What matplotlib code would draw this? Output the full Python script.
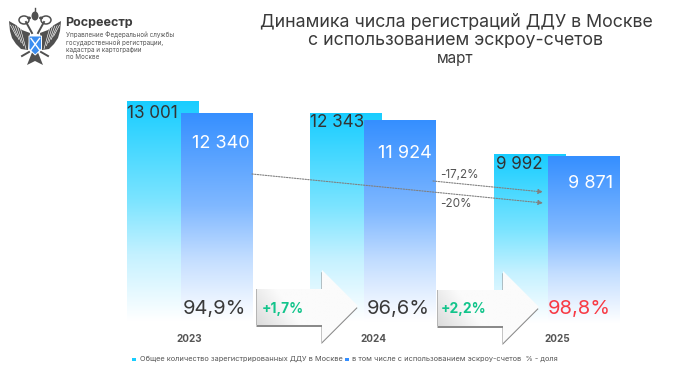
import numpy as np
import matplotlib
matplotlib.use('Agg')
import matplotlib.pyplot as plt
from matplotlib.colors import LinearSegmentedColormap
from matplotlib.patches import Polygon, Rectangle, Ellipse

plt.rcParams['font.family'] = ['Inter', 'DejaVu Sans']

years = ['2023', '2024', '2025']
total = [13001, 12343, 9992]
escrow = [12340, 11924, 9871]
total_labels = ['13 001', '12 343', '9 992']
escrow_labels = ['12 340', '11 924', '9 871']
shares = ['94,9%', '96,6%', '98,8%']
share_colors = ['#3a3a3a', '#3a3a3a', '#f83a44']
deltas = ['+1,7%', '+2,2%']
drops = ['-17,2%', '-20%']

W, H = 698, 382
fig = plt.figure(figsize=(W / 100, H / 100), dpi=100)

# bars axes, zero line sits at pixel row 330
ax = fig.add_axes([0, 0, 1, 1])
u = 56.8
ax.axis('off')

# overlay in pixel coordinates for everything else
pa = fig.add_axes([0, 0, 1, 1], zorder=5)
pa.axis('off')
pa.patch.set_alpha(0)

cyan = LinearSegmentedColormap.from_list('c', [(0, '#ffffff'), (0.04, '#ffffff'), (0.33, '#c4f1ff'),
                                               (0.57, '#7be4ff'), (1, '#18cdff')])
blue = LinearSegmentedColormap.from_list('b', [(0, '#ffffff'), (0.04, '#ffffff'), (0.33, '#c2ddff'),
                                               (0.57, '#80b8ff'), (1, '#358fff')])
grad = np.linspace(1, 0, 256).reshape(-1, 1)

starts = [127, 310, 494]
bw = 72
for i in range(3):
    for x0, v, cm, z in [(starts[i], total[i], cyan, 2), (starts[i] + 54, escrow[i], blue, 3)]:
        b = ax.bar(x0, v, width=bw, align='edge', color='none', zorder=z)[0]
        im = ax.imshow(grad, extent=[x0, x0 + bw, 0, v], cmap=cm, vmin=0, vmax=1,
                       aspect='auto', zorder=z)
        im.set_clip_path(b)
ax.set_xlim(0, W)
ax.set_ylim((330 - H) * u, 330 * u)

for i in range(3):
    pa.text([127, 310, 495.5][i], [113.5, 122.5, 164.5][i], total_labels[i],
            fontsize=12.3, color='#333333', ha='left', va='center')
    pa.text([220.5, 405, 591][i], [144, 154, 183][i], escrow_labels[i],
            fontsize=13, color='white', ha='center', va='center')
    pa.text([214.5, 398, 579.5][i], 309, shares[i], fontsize=14.5,
            color=share_colors[i], ha='center', va='center')
    pa.text([189, 373.5, 557][i], 339, years[i], fontsize=7.2, fontweight='bold',
            color='#555555', ha='center', va='center')

# block arrows
arrow_grad = LinearSegmentedColormap.from_list('a', ['#d4d4d4', '#fbfbfb'])
xg, yg = np.meshgrid(np.linspace(0, 1, 64), np.linspace(0.9, 0, 64))
shade = np.clip(1.8 * xg + yg, 0, 1)
for i, x in enumerate([257, 438]):
    d = i
    pts = [(x, 289 + d), (x + 65, 289 + d), (x + 65, 270 + d), (x + 101, 306 + d), (x + 65, 342 + d),
           (x + 65, 325 + d), (x, 325 + d)]
    shadow = Polygon([(p[0] - 0.5, p[1] + 2) for p in pts], closed=True, fc='#8a8a8a', ec='none', zorder=6)
    pa.add_patch(shadow)
    outline = Polygon([(p[0] - 1, p[1]) for p in pts[:2]] + [(x + 65, 325 + d), (x - 1, 325 + d)],
                      closed=True, fc='#b5b5b5', ec='none', zorder=6)
    pa.add_patch(outline)
    box = Polygon(pts, closed=True, fc='none', ec='none', zorder=7)
    pa.add_patch(box)
    im = pa.imshow(shade, extent=[x, x + 101, 342 + d, 270 + d], cmap=arrow_grad, vmin=0, vmax=1,
                   aspect='auto', zorder=7)
    im.set_clip_path(box)
    pa.text(x + 26, 309 + d * 0.5, deltas[i], fontsize=10, fontweight='bold', color='#12c48b',
            ha='center', va='center', zorder=9)
pa.set_xlim(0, W)
pa.set_ylim(H, 0)

# dashed change arrows
for (x0, y0, x1, y1) in [(433, 181, 543, 192), (252, 174, 543, 203)]:
    pa.annotate('', xy=(x1, y1), xytext=(x0, y0), zorder=6,
                arrowprops=dict(arrowstyle='-|>', ls=(0, (1.2, 1.2)), color='#808080',
                                lw=0.8, mutation_scale=7, shrinkA=0, shrinkB=0))
pa.text(459.5, 174.5, drops[0], fontsize=8.4, color='#555555', ha='center', va='center')
pa.text(456, 204, drops[1], fontsize=8.4, color='#555555', ha='center', va='center')

# title
pa.text(456, 22, 'Динамика числа регистраций ДДУ в Москве', fontsize=12.8, color='#3a3a3a',
        ha='center', va='center')
pa.text(455, 41, 'с использованием эскроу-счетов', fontsize=12.8, color='#3a3a3a',
        ha='center', va='center')
pa.text(455.5, 58, 'март', fontsize=11, color='#3a3a3a', ha='center', va='center')

# logo
pa.text(65, 23.5, 'Росреестр', fontsize=9, fontweight='bold', color='#3c3c3c', ha='left', va='center')
for j, line in enumerate(['Управление Федеральной службы', 'государственной регистрации,',
                          'кадастра и картографии', 'по Москве']):
    pa.text(65.5, 35 + j * 7.4, line, fontsize=4.55, color='#555555', ha='left', va='center')
eagle = '#505050'
for s in (-1, 1):
    cx = 35
    wing = [(cx + s * 5, 33), (cx + s * 13, 30), (cx + s * 19, 25), (cx + s * 26, 21), (cx + s * 25, 31),
            (cx + s * 23, 38), (cx + s * 19, 44), (cx + s * 14, 49), (cx + s * 7, 50)]
    pa.add_patch(Polygon(wing, closed=True, fc=eagle, ec='none', zorder=6))
    for k in range(5):
        pa.plot([cx + s * (15 + k * 2.4), cx + s * (9 + k * 2.4)], [27 - k * 0.5, 49 - k * 3.2],
                color='white', lw=0.45, zorder=7)
    # heads and necks
    pa.add_patch(Ellipse((cx + s * 11, 20), 10, 8, fc='none', ec=eagle, lw=1.1, zorder=6))
    pa.add_patch(Ellipse((cx + s * 6, 18), 4, 3, fc=eagle, ec='none', zorder=6))
    pa.plot([cx + s * 3, cx + s * 9], [33, 22], color=eagle, lw=1.4, zorder=6)
    # legs
    pa.plot([cx + s * 6, cx + s * 13], [52, 56], color=eagle, lw=1.4, zorder=6)
pa.add_patch(Polygon([(33, 50), (37, 50), (43, 65), (35, 61), (27, 65)], closed=True, fc=eagle, ec='none', zorder=6))
pa.add_patch(Ellipse((35, 16), 7, 9, fc=eagle, ec='none', zorder=6))
pa.plot([35, 35], [8, 12], color=eagle, lw=1, zorder=6)
pa.add_patch(Polygon([(29, 36), (41.5, 36), (41.5, 49), (35.2, 55), (29, 49)], closed=True, fc='#3b8df0', ec='white', lw=0.7, zorder=8))
pa.plot([31, 39.5], [38.5, 50], color='white', lw=1, zorder=9)
pa.plot([39.5, 31], [38.5, 50], color='white', lw=1, zorder=9)

# legend
pa.add_patch(Rectangle((132, 357.5), 3.5, 3, fc='#18cdff', ec='none'))
pa.text(140, 359, 'Общее количество зарегистрированных ДДУ в Москве', fontsize=5.3, color='#555555', ha='left', va='center')
pa.add_patch(Rectangle((345, 357.5), 3.5, 3, fc='#358fff', ec='none'))
pa.text(352, 359, 'в том числе с использованием эскроу-счетов  % - доля', fontsize=5.3, color='#555555', ha='left', va='center')

fig.savefig('out.png', dpi=100)
